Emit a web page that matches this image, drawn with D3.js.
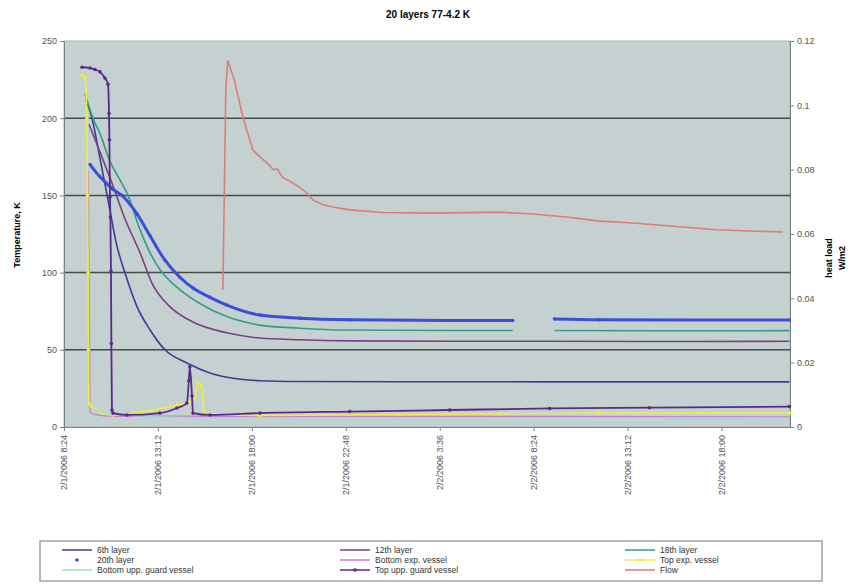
<!DOCTYPE html>
<html>
<head>
<meta charset="utf-8">
<script src="https://cdn.jsdelivr.net/npm/d3@7"></script>
<style>
body { margin: 0; background: #fff; }
svg { font-family: Arial, "Liberation Sans", sans-serif; }
</style>
</head>
<body>
<svg id="chart"></svg>
<script>
// Each point is [hours after 2/1/2006 8:24, value]; null value = gap in the record
const sixthLayer = [[1.12,212],[1.43,200],[1.84,174],[2.25,147],[2.71,117],[3.11,100],[3.73,78],[4.39,63],[5.16,50],[6.28,41.5],[7.46,35],[9.14,30.8],[10.01,30],[12.05,29.5],[17.16,29.3],[22.26,29.3],[27.37,29.2],[32.48,29.2],[37.07,29.2]];
const twelfthLayer = [[1.28,196],[1.84,178],[2.45,158],[3.11,135],[3.88,113],[4.54,92],[5.41,78],[6.59,68],[8.32,61],[10.01,57.6],[12.05,56.5],[14.60,55.8],[19.71,55.5],[24.82,55.5],[29.92,55.4],[37.07,55.5]];
const eighteenthLayer = [[1.07,216],[1.48,200],[1.84,190],[2.35,172],[2.86,160],[3.27,150],[3.88,128],[4.39,113],[4.90,102],[5.92,89],[6.94,80],[8.32,71.5],[10.01,66],[12.05,64],[14.25,62.8],[19.71,62.5],[22.93,62.5],[24.0,null],[25.07,62.5],[29.92,62.3],[37.07,62.4]];
const twentiethLayer = [[1.33,170],[1.84,162],[2.50,154],[2.96,150],[3.73,138],[4.39,124],[5.16,108],[5.92,97],[6.59,90],[7.46,84],[8.32,79],[10.01,72.5],[12.05,70.5],[14.60,69.5],[19.71,69],[22.93,69],[24.0,null],[25.07,70],[27.37,69.5],[37.07,69.3]];
const bottomExpVessel = [[1.23,166],[1.28,100],[1.33,10],[1.58,8],[2.50,7],[7.00,7],[12.05,7],[22.26,6.8],[37.07,6.5]];
const topExpVessel = [[0.92,228],[1.07,226],[1.17,200],[1.20,150],[1.23,100],[1.25,50],[1.28,15],[1.43,13],[1.84,10],[1.99,9],[2.50,7.8],[4.03,9.7],[5.77,14.2],[6.43,16.2],[6.69,20],[6.84,28.5],[7.00,27],[7.10,19.4],[7.15,9],[10.01,7.5],[17.16,8],[22.26,8.5],[27.37,9],[37.07,9]];
const bottomUppGuard = [[1.43,12],[2.50,8],[7.46,6],[17.16,5.8],[37.07,5.8]];
const topUppGuard = [[0.92,233],[1.33,232.5],[1.58,231.5],[1.84,230],[2.09,226],[2.25,222],[2.30,203],[2.32,186],[2.35,149],[2.37,136],[2.40,101],[2.42,54],[2.45,11],[2.50,9],[3.22,7.8],[4.90,9],[5.77,12.3],[6.28,15.5],[6.38,30],[6.43,39],[6.54,20],[6.59,9],[7.46,7.8],[10.01,9],[14.60,10],[19.71,11],[24.82,12],[29.92,12.5],[37.07,13.2]];
const flow = [[8.12,0.0426],[8.27,0.105],[8.37,0.114],[8.70,0.108],[9.14,0.0964],[9.65,0.0861],[10.10,0.0835],[10.37,0.0821],[10.70,0.0800],[10.90,0.0802],[11.18,0.0775],[11.60,0.0762],[12.05,0.0745],[12.40,0.0728],[12.71,0.0706],[13.20,0.0692],[13.74,0.0684],[14.60,0.0675],[16.29,0.0667],[18.84,0.0665],[22.26,0.0668],[23.95,0.0662],[25.69,0.0653],[27.37,0.0640],[29.06,0.0634],[31.61,0.0622],[33.34,0.0613],[36.72,0.0606]];

const seriesNames = ["6th layer", "12th layer", "18th layer", "20th layer", "Bottom exp. vessel", "Top exp. vessel", "Bottom upp. guard vessel", "Top upp. guard vessel", "Flow"];
const seriesColors = ["#3c3c96", "#7a3f86", "#2e9e8c", "#3a4fd8", "#c97fd0", "#eeee3a", "#9fdad6", "#5a2a8a", "#e07a7a"];

const xTickHours = [0, 4.8, 9.6, 14.4, 19.2, 24, 28.8, 33.6];
const leftTicks = [0, 50, 100, 150, 200, 250];
const rightTicks = [0, 0.02, 0.04, 0.06, 0.08, 0.1, 0.12];

const width = 850, height = 584;
const plot = { left: 64, right: 790, top: 41, bottom: 427 };

const startTime = new Date(2006, 1, 1, 8, 24);
const toDate = (h) => new Date(startTime.getTime() + h * 3600000);

const svg = d3.select("#chart").attr("width", width).attr("height", height);

const x = d3.scaleTime().domain([toDate(0), toDate(37.1)]).range([plot.left, plot.right]);
const yLeft = d3.scaleLinear().domain([0, 250]).range([plot.bottom, plot.top]);
const yRight = d3.scaleLinear().domain([0, 0.12]).range([plot.bottom, plot.top]);

// plot area
svg.append("rect")
    .attr("x", plot.left).attr("y", plot.top)
    .attr("width", plot.right - plot.left).attr("height", plot.bottom - plot.top)
    .attr("fill", "#c5d0d0")
    .attr("stroke", "#a9b4b4");

// gridlines
svg.append("g")
    .selectAll("line")
    .data(leftTicks.filter(t => t > 0 && t < 250))
    .enter()
    .append("line")
    .attr("x1", plot.left).attr("x2", plot.right)
    .attr("y1", d => yLeft(d)).attr("y2", d => yLeft(d))
    .attr("stroke", "#454a4a")
    .attr("stroke-width", 1.5);

// axes
const fmt = (d) => (d.getMonth() + 1) + "/" + d.getDate() + "/" + d.getFullYear() + " " +
    d.getHours() + ":" + String(d.getMinutes()).padStart(2, "0");

const xAxis = svg.append("g")
    .attr("transform", "translate(0," + plot.bottom + ")")
    .call(d3.axisBottom(x).tickValues(xTickHours.map(toDate)).tickFormat(fmt).tickSize(4).tickSizeOuter(0));
xAxis.selectAll("text")
    .attr("transform", "rotate(-90)")
    .attr("x", -8).attr("y", 0).attr("dy", "0.32em")
    .style("text-anchor", "end");

const leftAxis = svg.append("g")
    .attr("transform", "translate(" + plot.left + ",0)")
    .call(d3.axisLeft(yLeft).tickValues(leftTicks).tickSize(4).tickSizeOuter(0));

const rightAxis = svg.append("g")
    .attr("transform", "translate(" + plot.right + ",0)")
    .call(d3.axisRight(yRight).tickValues(rightTicks).tickFormat(d => d === 0 ? "0" : String(+d.toFixed(2))).tickSize(4).tickSizeOuter(0));

[xAxis, leftAxis, rightAxis].forEach(a => {
    a.select(".domain").attr("stroke", "#808080");
    a.selectAll(".tick line").attr("stroke", "#808080");
    a.selectAll("text").attr("font-size", 9).attr("fill", "#555").attr("font-family", "Arial, 'Liberation Sans', sans-serif");
});

// series
const tempSeries = [sixthLayer, twelfthLayer, eighteenthLayer, twentiethLayer, bottomExpVessel, topExpVessel, bottomUppGuard, topUppGuard];
const widths = [1.6, 1.6, 1.6, 3, 1.4, 1.6, 1.4, 1.8];
const hasMarkers = [false, false, false, true, false, true, false, true];

const tempLine = d3.line()
    .defined(d => d[1] != null)
    .curve(d3.curveMonotoneX)
    .x(d => x(toDate(d[0])))
    .y(d => yLeft(d[1]));

const flowLine = d3.line()
    .x(d => x(toDate(d[0])))
    .y(d => yRight(d[1]));

const series = svg.append("g");

tempSeries.forEach((data, i) => {
    series.append("path")
        .datum(data)
        .attr("d", tempLine)
        .attr("fill", "none")
        .attr("stroke", seriesColors[i])
        .attr("stroke-width", widths[i])
        .attr("stroke-linejoin", "round");
    if (hasMarkers[i]) {
        series.append("g")
            .selectAll("circle")
            .data(data.filter(d => d[1] != null))
            .enter()
            .append("circle")
            .attr("cx", d => x(toDate(d[0])))
            .attr("cy", d => yLeft(d[1]))
            .attr("r", 1.8)
            .attr("fill", seriesColors[i]);
    }
});

series.append("path")
    .datum(flow)
    .attr("d", flowLine)
    .attr("fill", "none")
    .attr("stroke", seriesColors[8])
    .attr("stroke-width", 1.6);

// titles
svg.append("text")
    .attr("x", 428).attr("y", 18)
    .attr("text-anchor", "middle")
    .attr("font-size", 10).attr("font-weight", "bold")
    .text("20 layers 77-4.2 K");

svg.append("text")
    .attr("transform", "translate(20,235) rotate(-90)")
    .attr("text-anchor", "middle")
    .attr("font-size", 9).attr("font-weight", "bold")
    .text("Temperature, K");

svg.append("text")
    .attr("transform", "translate(832,258) rotate(-90)")
    .attr("text-anchor", "middle")
    .attr("font-size", 9).attr("font-weight", "bold")
    .text("heat load");
svg.append("text")
    .attr("transform", "translate(845,258) rotate(-90)")
    .attr("text-anchor", "middle")
    .attr("font-size", 9).attr("font-weight", "bold")
    .text("W/m2");

// legend
const legend = svg.append("g");
legend.append("rect")
    .attr("x", 40).attr("y", 541).attr("width", 782).attr("height", 40)
    .attr("fill", "#fff").attr("stroke", "#8a8a8a").attr("stroke-width", 1.2);

const colX = [62, 340, 625];
const rowY = [550, 560, 570];
seriesNames.forEach((name, i) => {
    const cx = colX[i % 3], cy = rowY[Math.floor(i / 3)];
    const item = legend.append("g").attr("transform", "translate(" + cx + "," + cy + ")");
    if (i !== 3) {
        item.append("line")
            .attr("x1", 0).attr("x2", 30).attr("y1", 0).attr("y2", 0)
            .attr("stroke", seriesColors[i]).attr("stroke-width", 1.5);
    }
    if (hasMarkers[i]) {
        item.append("circle").attr("cx", 15).attr("cy", 0).attr("r", 1.8).attr("fill", seriesColors[i]);
    }
    item.append("text")
        .attr("x", 35).attr("y", 0).attr("dy", "0.35em")
        .attr("font-size", 8.5).attr("fill", "#333")
        .text(name);
});
</script>
</body>
</html>
